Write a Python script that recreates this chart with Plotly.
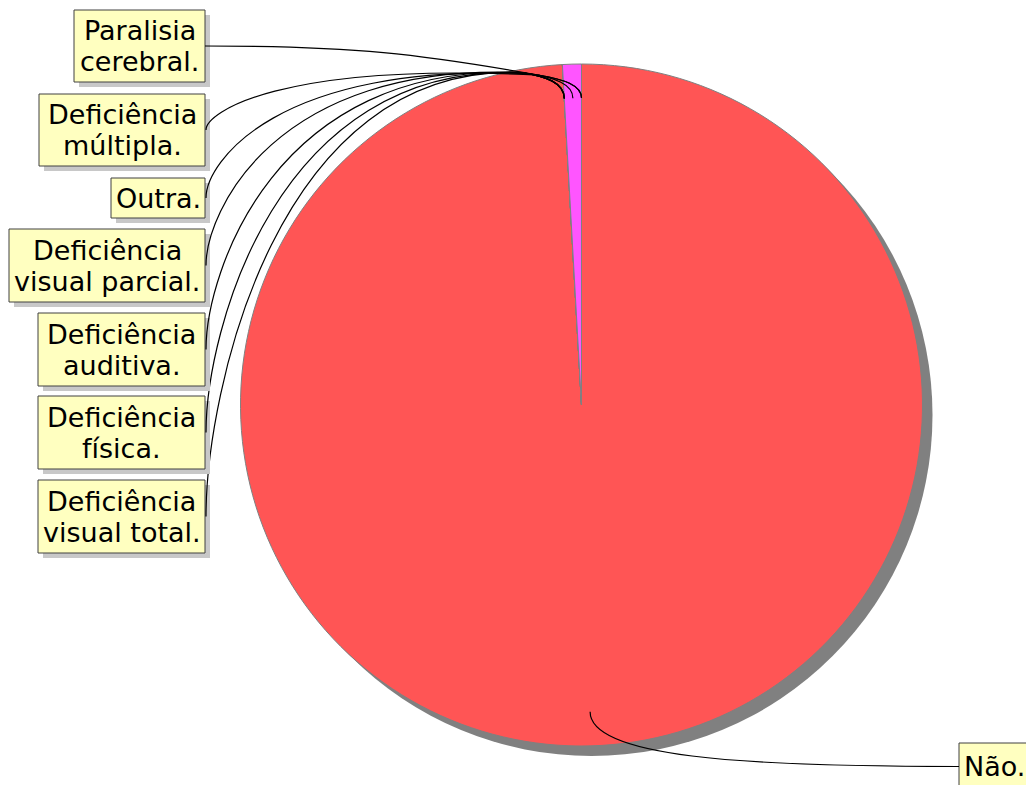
import math
import plotly.graph_objects as go

labels = ["Não.", "Deficiência visual total.", "Deficiência física.", "Deficiência auditiva.",
          "Deficiência visual parcial.", "Outra.", "Deficiência múltipla.", "Paralisia cerebral."]
box_lines = [["Não."], ["Deficiência", "visual total."], ["Deficiência", "física."],
             ["Deficiência", "auditiva."], ["Deficiência", "visual parcial."], ["Outra."],
             ["Deficiência", "múltipla."], ["Paralisia", "cerebral."]]
values = [111, 0, 0, 0, 0, 1, 0, 0]
colors = ["#FF5555", "#5555FF", "#55FF55", "#FFFF55", "#55FFFF", "#FF55FF", "#AA5500", "#AAAAAA"]

W, H = 1026, 785
cx, cy, r = 581.5, 405, 341

# label boxes (x0, y0, x1, y1) in pixels
boxes = [(959, 743, 1032, 790), (38, 480, 205, 553), (38, 396, 205, 469), (38, 313, 205, 386),
         (9, 229, 205, 302), (111, 178, 205, 218), (39, 94, 205, 166), (74, 10, 205, 82)]

fig = go.Figure()
fig.add_trace(go.Pie(
    labels=labels, values=values, sort=False, direction="clockwise", rotation=0,
    marker=dict(colors=colors, line=dict(color="#808080", width=1)),
    textinfo="none", showlegend=False, hoverinfo="label+value",
    domain=dict(x=[(cx - r) / W, (cx + r) / W], y=[(H - cy - r) / H, (H - cy + r) / H]),
))

shapes = [dict(type="circle", xref="x", yref="y", x0=cx - r + 10, x1=cx + r + 10,
               y0=cy - r + 10, y1=cy + r + 10, fillcolor="#808080", line_width=0, layer="below")]
annotations = []

total = sum(values)
cum = 0
for i, v in enumerate(values):
    mid = (cum + v / 2) / total * 2 * math.pi
    cum += v
    ex = cx + 0.9 * r * math.sin(mid)
    ey = cy - 0.9 * r * math.cos(mid)
    x0, y0, x1, y1 = boxes[i]
    ym = (y0 + y1) / 2
    shapes.append(dict(type="rect", xref="x", yref="y", x0=x0 + 5, x1=x1 + 5, y0=y0 + 5, y1=y1 + 5,
                       fillcolor="#C8C8C8", line_width=0, layer="above"))
    shapes.append(dict(type="rect", xref="x", yref="y", x0=x0, x1=x1, y0=y0, y1=y1,
                       fillcolor="#FFFFC0", line=dict(color="#404040", width=1), layer="above"))
    if i == 0:
        path = f"M {ex},{ey} C {ex},{ey + 45} {x0 - 220},{ym} {x0},{ym}"
    else:
        qx, qy = ex - 42, 72 + (ex - 560) * 0.15
        if labels[i] == "Paralisia cerebral.":
            path = (f"M {x1},{ym} C {x1 + 150},{ym} {qx - 120},{ym + 8} {qx},{qy} "
                    f"C {ex - 18},{qy + 4} {ex},{qy + 10} {ex},{ey}")
        else:
            path = (f"M {x1 + 1},{ym} C {x1 + 1},{ym - 0.27 * (ym - 66)} "
                    f"{x1 + 0.22 * (qx - x1)},{62} {qx},{qy} "
                    f"C {ex - 18},{qy + 4} {ex},{qy + 10} {ex},{ey}")
    shapes.append(dict(type="path", xref="x", yref="y", path=path,
                       line=dict(color="black", width=1.2), layer="above"))
    n = len(box_lines[i])
    for k, t in enumerate(box_lines[i]):
        ty = ym + (k - (n - 1) / 2) * 31
        if i == 0:
            annotations.append(dict(x=x0 + 3, y=ty, xref="x", yref="y", text=t, showarrow=False,
                                    xanchor="left", yanchor="middle", font=dict(size=27)))
        else:
            annotations.append(dict(x=(x0 + x1) / 2, y=ty, xref="x", yref="y", text=t,
                                    showarrow=False, xanchor="center", yanchor="middle",
                                    font=dict(size=27)))

fig.update_layout(
    width=W, height=H, margin=dict(l=0, r=0, t=0, b=0),
    paper_bgcolor="white", plot_bgcolor="white",
    font=dict(family="DejaVu Sans", color="black"),
    xaxis=dict(range=[0, W], visible=False, fixedrange=True),
    yaxis=dict(range=[H, 0], visible=False, fixedrange=True),
    shapes=shapes, annotations=annotations,
)
fig.write_html("out.html", config={"displayModeBar": False},
               post_script="document.body.style.margin='0';document.body.style.overflow='hidden';")
